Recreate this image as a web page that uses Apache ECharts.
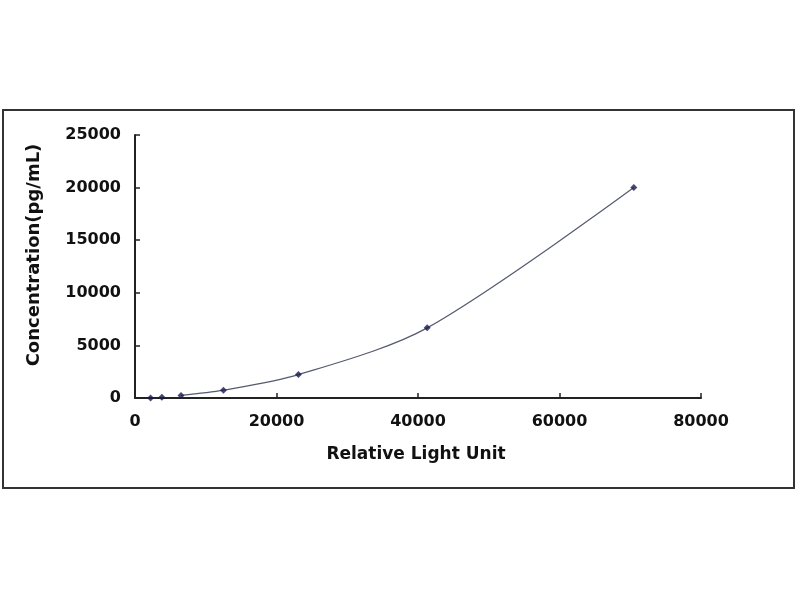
<!DOCTYPE html>
<html>
<head>
<meta charset="utf-8">
<script src="https://cdn.jsdelivr.net/npm/echarts@6/dist/echarts.min.js"></script>
<style>html,body{margin:0;padding:0;background:#fff}#c{width:800px;height:600px}</style>
</head>
<body>
<div id="c"></div>
<script>
var rlu = [2200, 3800, 6500, 12500, 23100, 41300, 70500];
var conc = [0, 82, 247, 741, 2222, 6667, 20000];
var xTitle = 'Relative Light Unit';
var yTitle = 'Concentration(pg/mL)';

var pts = rlu.map(function (x, i) { return [x, conc[i]]; });
var curve = pts.slice(2);

var font = 'DejaVu Sans';
var plain = function (v) { return String(v); };
var chart = echarts.init(document.getElementById('c'));
chart.setOption({
  animation: false,
  backgroundColor: '#fff',
  grid: { left: 135, right: 99, top: 135, bottom: 202, containLabel: false },
  xAxis: {
    type: 'value', min: 0, max: 80000, interval: 20000,
    axisLine: { lineStyle: { color: '#222', width: 2 } },
    axisTick: { show: true, inside: true, length: 5, lineStyle: { color: '#222', width: 1.5 } },
    axisLabel: { color: '#111', fontFamily: font, fontWeight: 'bold', fontSize: 16, margin: 16, formatter: plain },
    splitLine: { show: false }
  },
  yAxis: {
    type: 'value', min: 0, max: 25000, interval: 5000,
    axisLine: { show: true, lineStyle: { color: '#222', width: 2 } },
    axisTick: { show: true, inside: true, length: 5, lineStyle: { color: '#222', width: 1.5 } },
    axisLabel: { color: '#111', fontFamily: font, fontWeight: 'bold', fontSize: 16, margin: 14, formatter: plain },
    splitLine: { show: false }
  },
  graphic: [
    { type: 'rect', shape: { x: 3, y: 110, width: 791, height: 378 }, style: { fill: 'none', stroke: '#333', lineWidth: 2 }, z: -1 },
    { type: 'text', x: 416, y: 455, style: { text: xTitle, font: 'bold 17px "DejaVu Sans"', fill: '#111', textAlign: 'center', textVerticalAlign: 'middle' } },
    { type: 'text', x: 34, y: 255, rotation: Math.PI / 2, style: { text: yTitle, font: 'bold 18px "DejaVu Sans"', fill: '#111', textAlign: 'center', textVerticalAlign: 'middle' } }
  ],
  series: [
    { type: 'line', data: curve, smooth: 0.3, showSymbol: false, symbol: 'none',
      lineStyle: { color: '#555a70', width: 1.2 }, z: 2 },
    { type: 'scatter', data: pts, symbol: 'diamond', symbolSize: 7,
      itemStyle: { color: '#1a1a50' }, z: 3 }
  ]
});
</script>
</body>
</html>
